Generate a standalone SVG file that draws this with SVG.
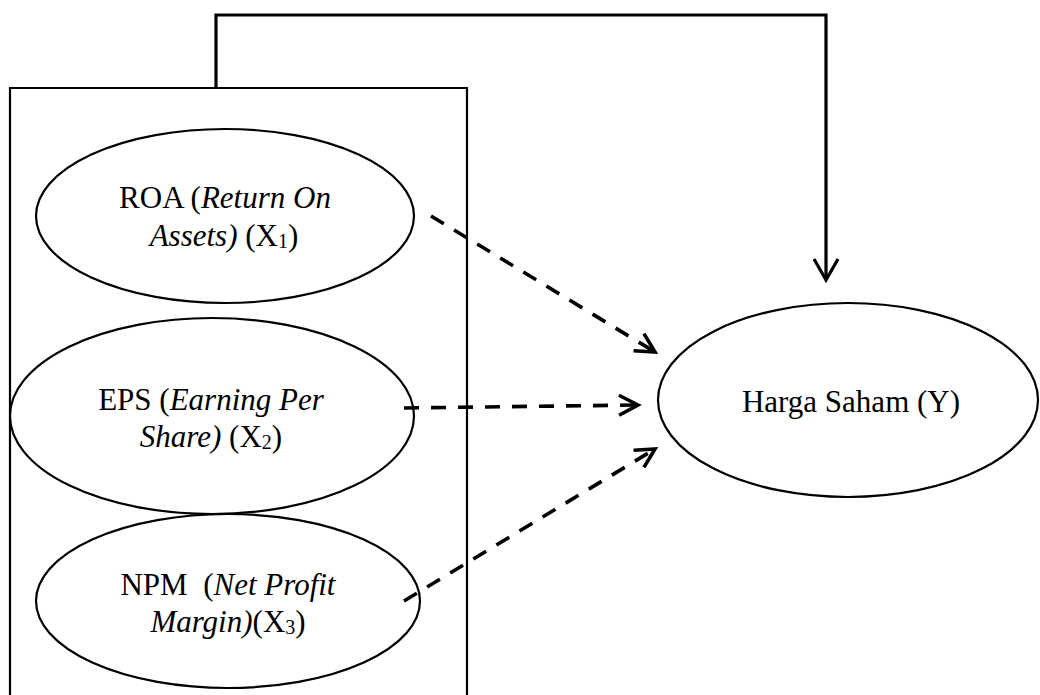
<svg xmlns="http://www.w3.org/2000/svg" width="1040" height="695" viewBox="0 0 1040 695">
  <style>
    .node { fill: #ffffff; stroke: #000000; stroke-width: 2.2; }
    .frame { fill: none; stroke: #000000; stroke-width: 2.2; }
    .lbl { font-family: "Liberation Serif", "Times New Roman", serif; font-size: 31px; fill: #000000; text-anchor: middle; }
    .it { font-style: italic; }
    .sub { font-size: 20px; }
    .dash { fill: none; stroke: #000000; stroke-width: 3.6; stroke-dasharray: 15 12; }
    .solid { fill: none; stroke: #000000; stroke-width: 3.2; }
  </style>
  <defs>
    <marker id="headDash" markerUnits="userSpaceOnUse" viewBox="-24 -14 28 28" refX="0" refY="0" markerWidth="28" markerHeight="28" orient="auto">
      <path d="M -19 -10 L 0 0 L -19 10" fill="none" stroke="#000000" stroke-width="3.6" stroke-dasharray="none"/>
    </marker>
    <marker id="headSolid" markerUnits="userSpaceOnUse" viewBox="-26 -15 30 30" refX="0" refY="0" markerWidth="30" markerHeight="30" orient="auto">
      <path d="M -21 -12 L 0 0 L -21 12" fill="none" stroke="#000000" stroke-width="3.2"/>
    </marker>
  </defs>
  <rect width="1040" height="695" fill="#ffffff"/>

  <g id="frame">
    <path class="frame" d="M 10 700 L 10 88 L 467 88 L 467 700"/>
  </g>

  <g id="roa">
    <ellipse class="node" cx="225" cy="216" rx="189" ry="87"/>
    <text class="lbl" x="225" y="208">ROA (<tspan class="it">Return On</tspan></text>
    <text class="lbl" x="224" y="246"><tspan class="it">Assets)</tspan> (X<tspan class="sub" dy="2">1</tspan><tspan dy="-2">)</tspan></text>
  </g>

  <g id="eps">
    <ellipse class="node" cx="212" cy="416" rx="202" ry="98"/>
    <text class="lbl" x="211" y="410">EPS (<tspan class="it">Earning Per</tspan></text>
    <text class="lbl" x="211" y="447"><tspan class="it">Share)</tspan> (X<tspan class="sub" dy="2">2</tspan><tspan dy="-2">)</tspan></text>
  </g>

  <g id="npm">
    <ellipse class="node" cx="228" cy="601" rx="192" ry="87"/>
    <text class="lbl" x="228" y="595">NPM&#160; (<tspan class="it">Net Profit</tspan></text>
    <text class="lbl" x="228" y="632"><tspan class="it">Margin)</tspan>(X<tspan class="sub" dy="2">3</tspan><tspan dy="-2">)</tspan></text>
  </g>

  <g id="harga">
    <ellipse class="node" cx="848" cy="400" rx="190" ry="97"/>
    <text class="lbl" x="851" y="412">Harga Saham (Y)</text>
  </g>

  <g id="connectors">
    <path class="solid" d="M 216 88 L 216 15 L 826 15 L 826 280" marker-end="url(#headSolid)"/>
    <path class="dash" d="M 431 216 L 655 352" marker-end="url(#headDash)"/>
    <path class="dash" d="M 404 408 L 638 405" marker-end="url(#headDash)"/>
    <path class="dash" d="M 404 601 L 655 449" marker-end="url(#headDash)"/>
  </g>
</svg>
